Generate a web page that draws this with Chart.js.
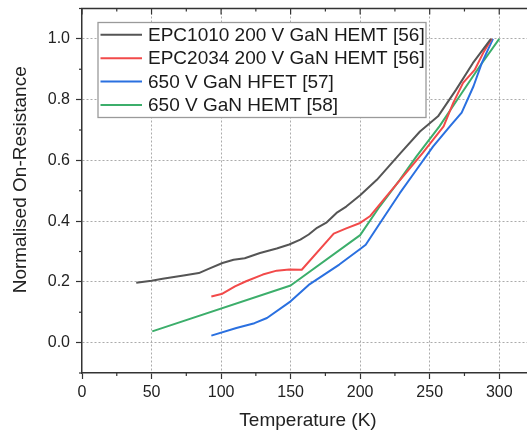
<!DOCTYPE html>
<html lang="en">
<head>
    <meta charset="UTF-8">
    <title>On-Resistance vs Temperature</title>
    <script src="https://cdn.jsdelivr.net/npm/chart.js"></script>
    <style>
        html, body {
            margin: 0;
            padding: 0;
            overflow: hidden;
            background: #fff;
        }

        .chart-box {
            width: 540px;
            height: 432px;
        }
    </style>
</head>
<body>

    <div class="chart-box">
        <canvas id="rdsChart" width="540" height="432"></canvas>
    </div>

<script>
// Normalised on-resistance vs temperature (K)
const epc1010Temp = [39, 50, 58, 73, 84, 91, 101, 109, 117, 128, 140, 149, 157, 163, 169, 176, 183, 190, 200, 212, 229, 243, 256, 269, 281, 294];
const epc1010Res  = [0.197, 0.204, 0.210, 0.221, 0.229, 0.243, 0.262, 0.273, 0.278, 0.295, 0.310, 0.323, 0.339, 0.356, 0.378, 0.396, 0.427, 0.448, 0.485, 0.536, 0.624, 0.695, 0.745, 0.833, 0.920, 1.0];

const epc2034Temp = [93, 101, 110, 118, 130, 140, 149, 158, 181, 190, 200, 207, 219, 233, 245, 260, 267, 274, 282.5, 288.5, 294.5];
const epc2034Res  = [0.152, 0.161, 0.185, 0.202, 0.224, 0.237, 0.241, 0.240, 0.359, 0.376, 0.394, 0.416, 0.482, 0.559, 0.625, 0.712, 0.790, 0.855, 0.899, 0.954, 1.0];

const hfetTemp = [93, 111, 124, 133, 150, 163, 185, 200, 204, 215.5, 228.5, 240.5, 252.5, 264.5, 273, 281.5, 287.5, 295.5];
const hfetRes  = [0.023, 0.048, 0.064, 0.081, 0.136, 0.190, 0.257, 0.308, 0.322, 0.402, 0.492, 0.569, 0.646, 0.712, 0.757, 0.844, 0.921, 1.0];

const hemtTemp = [50.5, 150, 200, 214, 228.5, 240.5, 257, 271.5, 286, 300];
const hemtRes  = [0.037, 0.188, 0.354, 0.448, 0.536, 0.613, 0.712, 0.811, 0.910, 1.0];

const seriesLabels = ['EPC1010 200 V GaN HEMT [56]', 'EPC2034 200 V GaN HEMT [56]', '650 V GaN HFET [57]', '650 V GaN HEMT [58]'];
const seriesColors = ['#555555', '#f24a4a', '#2a70e0', '#3cae6b'];

const FONT = '"Liberation Sans", Arial, sans-serif';
const AXIS_COLOR = '#333';
const GRID_COLOR = '#ababab';

function pairs(xs, ys) {
  return xs.map((x, i) => ({ x: x, y: ys[i] }));
}

const isMajorX = v => v % 50 === 0;
const isMajorY = v => Math.round(v * 10) % 2 === 0 && v > -0.05;

// top frame line, inward top ticks and the short minor ticks
const frameTicks = {
  id: 'frameTicks',
  afterDraw(chart) {
    const ctx = chart.ctx;
    const area = chart.chartArea;
    const xs = chart.scales.x;
    const ys = chart.scales.y;
    ctx.save();
    ctx.strokeStyle = AXIS_COLOR;
    ctx.lineWidth = 1.5;
    ctx.beginPath();
    ctx.moveTo(area.left - 0.75, area.top);
    ctx.lineTo(area.right, area.top);
    ctx.stroke();

    ctx.lineWidth = 1.2;
    xs.ticks.forEach(t => {
      const px = xs.getPixelForValue(t.value);
      const len = isMajorX(t.value) ? 6 : 3;
      ctx.beginPath();
      ctx.moveTo(px, area.top);
      ctx.lineTo(px, area.top + len);
      ctx.stroke();
      if (!isMajorX(t.value)) {
        ctx.beginPath();
        ctx.moveTo(px, area.bottom);
        ctx.lineTo(px, area.bottom + 3);
        ctx.stroke();
      }
    });
    ys.ticks.forEach(t => {
      if (isMajorY(t.value)) return;
      const py = ys.getPixelForValue(t.value);
      ctx.beginPath();
      ctx.moveTo(area.left, py);
      ctx.lineTo(area.left - 3, py);
      ctx.stroke();
    });

    // y axis title
    ctx.fillStyle = '#222';
    ctx.font = '19px ' + FONT;
    ctx.textAlign = 'center';
    ctx.textBaseline = 'middle';
    ctx.translate(21, area.top + (area.bottom - area.top) * 0.47);
    ctx.rotate(-Math.PI / 2);
    ctx.fillText('Normalised On-Resistance', 0, 0);
    ctx.restore();
  }
};

// boxed legend inside the plot area
const boxLegend = {
  id: 'boxLegend',
  afterDatasetsDraw(chart) {
    const ctx = chart.ctx;
    const area = chart.chartArea;
    const left = area.left + 16;
    const top = area.top + 14;
    const w = 328, h = 95, row = 23.4;
    ctx.save();
    ctx.fillStyle = '#fff';
    ctx.fillRect(left, top, w, h);
    ctx.strokeStyle = '#9a9a9a';
    ctx.lineWidth = 1.3;
    ctx.strokeRect(left, top, w, h);
    ctx.font = '19px ' + FONT;
    ctx.textBaseline = 'middle';
    ctx.textAlign = 'left';
    chart.data.datasets.forEach((ds, i) => {
      const cy = top + 12.3 + i * row;
      ctx.strokeStyle = ds.borderColor;
      ctx.lineWidth = 2;
      ctx.beginPath();
      ctx.moveTo(left + 2.5, cy);
      ctx.lineTo(left + 44, cy);
      ctx.stroke();
      ctx.fillStyle = '#1a1a1a';
      ctx.fillText(ds.label, left + 50, cy + 1);
    });
    ctx.restore();
  }
};

const datasets = [
  pairs(epc1010Temp, epc1010Res),
  pairs(epc2034Temp, epc2034Res),
  pairs(hfetTemp, hfetRes),
  pairs(hemtTemp, hemtRes)
].map((data, i) => ({
  label: seriesLabels[i],
  data: data,
  borderColor: seriesColors[i],
  backgroundColor: seriesColors[i],
  borderWidth: 2,
  pointRadius: 0,
  tension: 0,
  fill: false,
  borderJoinStyle: 'round'
}));

new Chart(document.getElementById('rdsChart'), {
  type: 'line',
  data: { datasets: datasets },
  options: {
    responsive: false,
    animation: false,
    layout: { padding: { top: 8.5, right: 6, bottom: 0, left: 0 } },
    plugins: {
      legend: { display: false },
      tooltip: { enabled: false }
    },
    scales: {
      x: {
        type: 'linear',
        min: 0,
        max: 325,
        afterFit: s => { s.height = 59; },
        ticks: {
          stepSize: 25,
          autoSkip: false,
          maxRotation: 0,
          padding: 4,
          color: '#222',
          font: { family: FONT, size: 16 },
          callback: v => (isMajorX(v) ? v : '')
        },
        grid: {
          color: c => (c.tick && isMajorX(c.tick.value) && c.tick.value > 0 && c.tick.value < 325 ? GRID_COLOR : 'transparent'),
          tickColor: c => (c.tick && isMajorX(c.tick.value) ? AXIS_COLOR : 'transparent'),
          tickLength: 6,
          tickWidth: 1.2,
          lineWidth: 1
        },
        border: { color: AXIS_COLOR, width: 1.5, dash: [2, 2] },
        title: {
          display: true,
          text: 'Temperature (K)',
          color: '#222',
          font: { family: FONT, size: 19 },
          padding: { top: 0, bottom: 0 }
        }
      },
      y: {
        min: -0.1,
        max: 1.1,
        afterFit: s => {
          s.width = 82;
          s.paddingTop = 0;
          s.paddingBottom = 0;
        },
        ticks: {
          stepSize: 0.1,
          autoSkip: false,
          padding: 6,
          color: '#222',
          font: { family: FONT, size: 16 },
          callback: v => (isMajorY(v) ? v.toFixed(1) : '')
        },
        grid: {
          color: c => (c.tick && isMajorY(c.tick.value) ? GRID_COLOR : 'transparent'),
          tickColor: c => (c.tick && isMajorY(c.tick.value) ? AXIS_COLOR : 'transparent'),
          tickLength: 6,
          tickWidth: 1.2,
          lineWidth: 1
        },
        border: { color: AXIS_COLOR, width: 1.5, dash: [2, 2] }
      }
    }
  },
  plugins: [boxLegend, frameTicks]
});
</script>

</body>
</html>
